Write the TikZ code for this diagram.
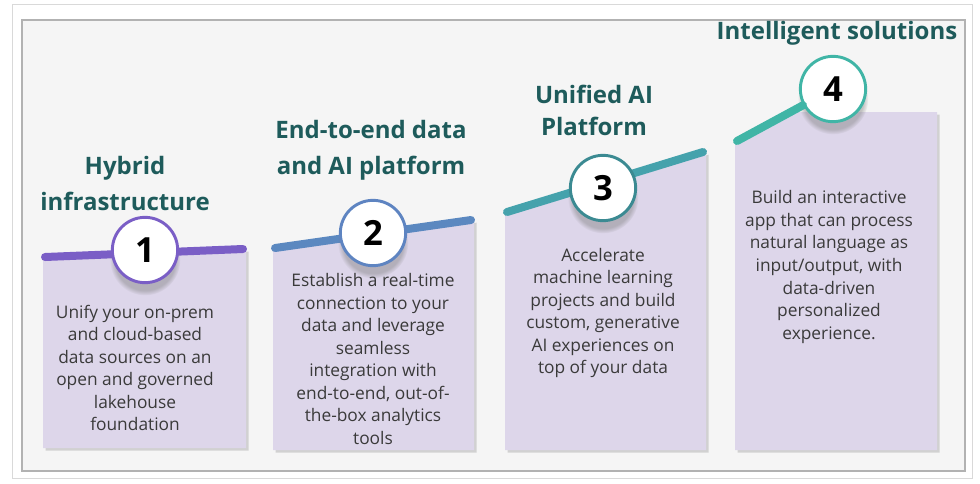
\documentclass[tikz,border=0pt]{standalone}
\usepackage{fontspec}
\setmainfont{Open Sans}
\usetikzlibrary{shadows}
\definecolor{framebg}{HTML}{F5F5F5}
\definecolor{panelfill}{HTML}{DDD6EA}
\definecolor{titleteal}{HTML}{1E5B5B}
\definecolor{bodygray}{HTML}{3A3A3A}
\definecolor{stepone}{HTML}{7A5EC6}
\definecolor{steptwo}{HTML}{5B88C0}
\definecolor{stepthree}{HTML}{45A2AC}
\definecolor{stepfour}{HTML}{40B5A6}
\begin{document}
\begin{tikzpicture}[x=0.75pt,y=-0.75pt,
	panel/.style={fill=panelfill,drop shadow={opacity=0.3,shadow xshift=2pt,shadow yshift=-2pt}},
	track/.style={line width=6pt,line cap=round},
	stepnum/.style={circle,fill=white,line width=2.2pt,minimum size=49pt,inner sep=0pt,font=\bfseries\fontsize{26}{26}\selectfont,circular drop shadow={opacity=0.45,shadow xshift=0pt,shadow yshift=-7pt,shadow scale=1.08}},
	title/.style={text=titleteal,font=\bfseries\fontsize{18}{27}\selectfont,align=center},
	body/.style={text=bodygray,font=\fontsize{13}{16.9}\selectfont,align=center}]
		\useasboundingbox (0,0) rectangle (980,483);
		% frame
		\draw[gray!30,fill=white,drop shadow={opacity=0.2,shadow xshift=1pt,shadow yshift=-1pt}] (12,4) rectangle (972,478);
		\draw[gray!60,line width=0.8pt,fill=framebg] (22,20) rectangle (965,471);
		% panels
		\path[panel] (43,257) -- (246,249) -- (246,448) -- (43,448) -- cycle;
		\path[panel] (273,248) -- (474,220) -- (474,450) -- (273,450) -- cycle;
		\path[panel] (505,212) -- (706,152) -- (706,450) -- (505,450) -- cycle;
		\path[panel] (735,142) -- (791,112) -- (937,112) -- (937,450) -- (735,450) -- cycle;
		% tracks
		\coordinate (a1) at (45,257);
		\coordinate (b1) at (243,249);
		\coordinate (a2) at (275,248);
		\coordinate (b2) at (471,220);
		\coordinate (a3) at (507,212);
		\coordinate (b3) at (703,152);
		\coordinate (a4) at (737,141);
		\draw[track,stepone] (a1) -- (b1);
		\draw[track,steptwo] (a2) -- (b2);
		\draw[track,stepthree] (a3) -- (b3);
		\node[stepnum,draw=stepfour] (n4) at (833,89) {4};
		\draw[track,stepfour] (a4) -- (n4);
		\node[stepnum,draw=stepone] (n1) at (145,250) {1};
		\node[stepnum,draw=steptwo!90!stepone] (n2) at (373,233) {2};
		\node[stepnum,draw=stepthree!85!black] (n3) at (603,188) {3};
		% titles
		\node[title] (h1) at (125,183) {Hybrid\\infrastructure};
		\node[title] (h2) at (371,150) {End-to-end data\\and AI platform};
		\node[title,font=\bfseries\fontsize{18}{24}\selectfont] (h3) at (594,110) {Unified AI\\Platform};
		\node[title] (h4) at (837,33) {Intelligent solutions};
		% texts
		\node[body] (t1) at (135,368) {Unify your on-prem\\and cloud-based\\data sources on an\\open and governed\\lakehouse\\foundation};
		\node[body] (t2) at (373,359) {Establish a real-time\\connection to your\\data and leverage\\seamless\\integration with\\end-to-end, out-of-\\the-box analytics\\tools};
		\node[body] (t3) at (603,313) {Accelerate\\machine learning\\projects and build\\custom, generative\\AI experiences on\\top of your data};
		\node[body] (t4) at (829,267) {Build an interactive\\app that can process\\natural language as\\input/output, with\\data-driven\\personalized\\experience.};
	\end{tikzpicture}
\end{document}
